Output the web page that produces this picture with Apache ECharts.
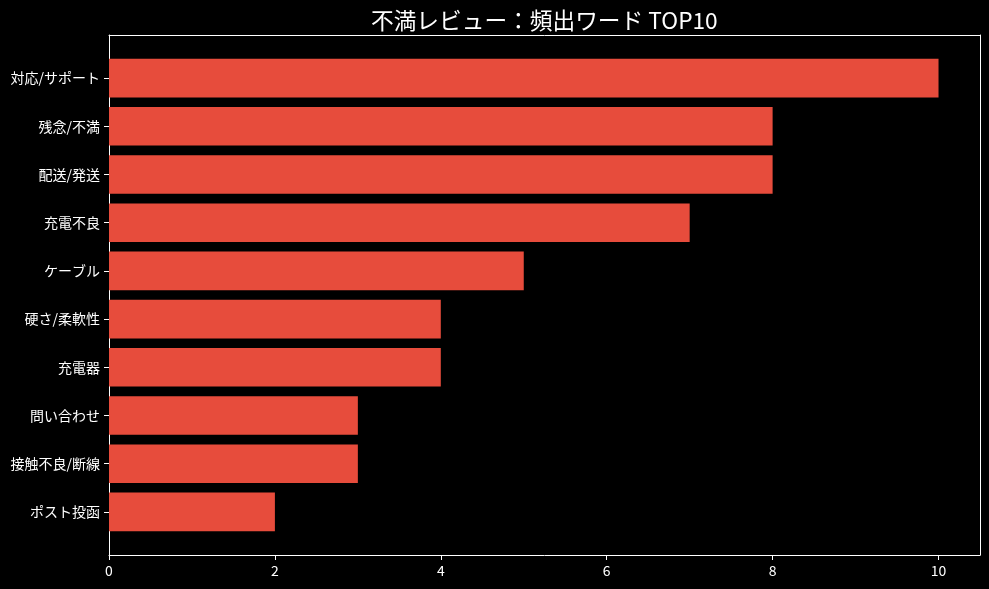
<!DOCTYPE html>
<html><head><meta charset="utf-8">
<script src="https://cdn.jsdelivr.net/npm/echarts@6/dist/echarts.min.js"></script>
<style>html,body{margin:0;padding:0;background:#000}#c{width:989px;height:589px}</style>
</head><body><div id="c"></div>
<script>
const categories = ['対応/サポート','残念/不満','配送/発送','充電不良','ケーブル','硬さ/柔軟性','充電器','問い合わせ','接触不良/断線','ポスト投函'];
const counts = [10, 8, 8, 7, 5, 4, 4, 3, 3, 2];
const xTicks = [0, 2, 4, 6, 8, 10];
const titleText = '不満レビュー：頻出ワード TOP10';

const FONT = '"Noto Sans CJK JP", "Noto Sans", sans-serif';
const chart = echarts.init(document.getElementById('c'), null, {renderer: 'canvas'});
const lineOnly = () => ({axisLine: {show: true, onZero: false, lineStyle: {color: '#fff', width: 1}}, axisTick: {show: false}, axisLabel: {show: false}, splitLine: {show: false}});
chart.setOption({
  backgroundColor: '#000',
  animation: false,
  title: {text: titleText, left: 366, top: 4,
    textStyle: {color: '#fff', fontSize: 22.7, fontWeight: 'normal', fontFamily: FONT}},
  grid: [
    {left: 109, right: 9, top: 54, bottom: 589 - 536},
    {left: 109, right: 9, top: 35, bottom: 34}
  ],
  xAxis: [
    {gridIndex: 0, type: 'value', min: 0, max: 10.5, show: false},
    {gridIndex: 1, type: 'value', min: 0, max: 10.5, interval: 2, position: 'bottom',
      axisLine: {show: true, onZero: false, lineStyle: {color: '#fff', width: 1}},
      axisTick: {show: true, length: 5, lineStyle: {color: '#fff'}, customValues: xTicks},
      axisLabel: {color: '#fff', fontSize: 14, fontFamily: FONT, margin: 9, customValues: xTicks},
      splitLine: {show: false}},
    Object.assign({gridIndex: 1, type: 'value', min: 0, max: 10.5, position: 'top'}, lineOnly())
  ],
  yAxis: [
    {gridIndex: 0, type: 'category', data: categories, inverse: true,
      axisLine: {show: false},
      axisTick: {show: true, alignWithLabel: true, length: 5, lineStyle: {color: '#fff'}},
      axisLabel: {color: '#fff', fontSize: 14, fontFamily: FONT, margin: 9}},
    Object.assign({gridIndex: 1, type: 'value', min: 0, max: 1, position: 'left'}, lineOnly()),
    Object.assign({gridIndex: 1, type: 'value', min: 0, max: 1, position: 'right'}, lineOnly())
  ],
  series: [{
    type: 'bar', xAxisIndex: 0, yAxisIndex: 0, data: counts, barWidth: '80%',
    itemStyle: {color: '#e74c3c'}
  }]
});
</script></body></html>
